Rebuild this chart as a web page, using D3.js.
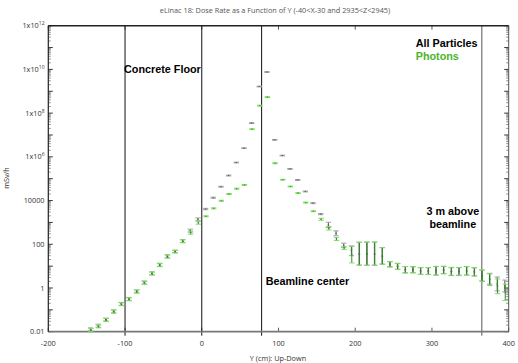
<!DOCTYPE html>
<html>
<head>
<meta charset="utf-8">
<script src="https://cdn.jsdelivr.net/npm/d3@7"></script>
<style>
  html, body { margin: 0; padding: 0; background: #fff; }
  svg { display: block; }
</style>
</head>
<body>
<svg id="chart" width="518" height="363"></svg>
<script>
// Bin centres along Y (cm)
const positions = [-145,-135,-125,-115,-105,-95,-85,-75,-65,-55,-45,-35,-25,-15,-5,
  5,15,25,35,45,55,65,75,85,95,105,115,125,135,145,155,165,175,185,195,
  205,215,225,235,245,255,265,275,285,295,305,315,325,335,345,355,365,375,385,395];

// All particles: dose rate (mSv/h) with lower / upper error limits
const allValue = [0.013,0.019,0.036,0.085,0.19,0.32,0.7,1.8,4.7,11.5,28,47,140,420,1400,
  4100,13500,43000,1.4e5,5.5e5,2.5e6,3.5e7,1.65e9,7.6e9,6.0e6,1.15e6,2.8e5,8.8e4,2.6e4,7600,2400,770,320,90,53,
  37,37,37,29,12.6,9.9,6.9,6.9,6.0,6.0,6.1,6.7,5.6,5.6,6.1,5.5,3.7,2.6,1.5,1.24];
const allLow = [0.011,0.016,0.031,0.073,0.16,0.27,0.6,1.5,4.0,9.8,24,41,120,360,1200,
  3800,12800,41000,1.33e5,5.25e5,2.4e6,3.35e7,1.58e9,7.3e9,5.75e6,1.1e6,2.68e5,8.4e4,2.48e4,7200,2250,580,245,73,30,
  11.3,11,11,12.6,9.5,7.2,5.0,5.0,4.2,4.2,3.9,4.6,3.7,3.7,3.9,3.6,2.1,1.5,0.73,0.66];
const allHigh = [0.015,0.022,0.042,0.1,0.22,0.37,0.82,2.1,5.5,13.5,33,54,163,490,1600,
  4400,14200,45000,1.47e5,5.75e5,2.6e6,3.65e7,1.72e9,7.9e9,6.25e6,1.2e6,2.92e5,9.2e4,2.72e4,8000,2550,1020,410,112,84,
  124,126,126,70,16,13.5,9.5,9.5,8.5,8.5,9.5,9.8,8.5,8.5,9.5,8.5,6.7,4.7,3.2,2.3];

// Photons: dose rate (mSv/h) with lower / upper error limits
const photonValue = [0.012,0.017,0.034,0.082,0.18,0.30,0.68,1.74,4.5,11,27,46,136,340,970,
  1900,4400,9800,20000,35000,52000,1.85e7,2.2e8,5.4e8,5.1e5,9.0e4,4.4e4,2.2e4,8100,3250,1400,540,175,68,35,
  35,36,35,28,12,9.5,6.8,6.7,6.0,5.9,6.2,6.5,5.7,5.8,6.0,5.4,3.6,2.4,1.2,0.6];
const photonLow = [0.010,0.015,0.029,0.07,0.155,0.26,0.58,1.5,3.9,9.4,23,40,117,290,830,
  1800,4150,9300,19000,33000,49500,1.77e7,2.1e8,5.15e8,4.85e5,8.6e4,4.2e4,2.1e4,7700,3100,1250,450,150,58,14,
  11,11,11,12,9,7,4.8,4.9,4.2,4.1,3.9,4.4,3.8,3.9,3.9,3.5,2.0,1.3,0.55,0.27];
const photonHigh = [0.014,0.02,0.04,0.096,0.21,0.35,0.8,2.0,5.3,12.9,32,53,158,400,1130,
  2000,4650,10300,21000,37000,54500,1.93e7,2.3e8,5.65e8,5.35e5,9.4e4,4.6e4,2.3e4,8500,3400,1550,650,205,80,80,
  124,126,126,70,16,13,9.6,9.3,8.6,8.5,9.8,9.8,8.8,8.7,9.5,8.3,6.6,4.4,2.6,1.5];

// Axis ticks
const xTicks = [-200,-100,0,100,200,300,400];
const yTickValues = [1e12,1e10,1e8,1e6,10000,100,1,0.01];
const yTickLabels = [["1x10","12"],["1x10","10"],["1x10","8"],["1x10","6"],["10000",""],["100",""],["1",""],["0.01",""]];

// Region markers (cm)
const markers = [-100, 0, 78, 365];

const svg = d3.select("#chart");
const plotLeft = 48.3, plotRight = 508.7, plotTop = 25.7, plotBottom = 331.7;

const x = d3.scaleLinear().domain([-200, 400]).range([plotLeft, plotRight]);
const y = d3.scaleLog().domain([0.01, 1e12]).range([plotBottom, plotTop]);

// Title
svg.append("text")
  .attr("x", 275).attr("y", 12.5)
  .attr("text-anchor", "middle")
  .style("font-family", "'Open Sans', sans-serif")
  .style("font-size", "7.3px")
  .style("fill", "#555")
  .text("eLinac 18: Dose Rate as a Function of Y (-40<X-30 and 2935<Z<2945)");

// Minor and major log ticks on left and right edges
const minorVals = [];
for (let e = -2; e < 12; e++) {
  for (let m = 2; m <= 9; m++) minorVals.push(m * Math.pow(10, e));
}
const majorVals = d3.range(-2, 13).map(e => Math.pow(10, e));

const tickG = svg.append("g");
[plotLeft, plotRight].forEach((edge, i) => {
  const dir = i === 0 ? 1 : -1;
  tickG.selectAll(null).data(minorVals).enter().append("line")
    .attr("x1", edge).attr("x2", edge + dir * 2.5)
    .attr("y1", d => y(d)).attr("y2", d => y(d))
    .attr("stroke", "#444").attr("stroke-width", 0.6);
  tickG.selectAll(null).data(majorVals).enter().append("line")
    .attr("x1", edge).attr("x2", edge + dir * 4.5)
    .attr("y1", d => y(d)).attr("y2", d => y(d))
    .attr("stroke", "#222").attr("stroke-width", 0.9);
});

// X ticks top and bottom
xTicks.forEach(v => {
  tickG.append("line").attr("x1", x(v)).attr("x2", x(v))
    .attr("y1", plotBottom).attr("y2", plotBottom - 4).attr("stroke", "#333").attr("stroke-width", 0.8);
  tickG.append("line").attr("x1", x(v)).attr("x2", x(v))
    .attr("y1", plotTop).attr("y2", plotTop + 4).attr("stroke", "#333").attr("stroke-width", 0.8);
});

// Vertical region lines
svg.append("g").selectAll("line").data(markers).enter().append("line")
  .attr("x1", d => x(d)).attr("x2", d => x(d))
  .attr("y1", plotTop).attr("y2", plotBottom + 4)
  .attr("stroke", (d, i) => i === 3 ? "#555" : "#111")
  .attr("stroke-width", 1);

// Frame
svg.append("line").attr("x1", plotLeft).attr("x2", plotRight).attr("y1", plotTop).attr("y2", plotTop)
  .attr("stroke", "#222").attr("stroke-width", 1.6);
svg.append("line").attr("x1", plotLeft).attr("x2", plotRight).attr("y1", plotBottom).attr("y2", plotBottom)
  .attr("stroke", "#777").attr("stroke-width", 1.8);
svg.append("line").attr("x1", plotLeft).attr("x2", plotLeft).attr("y1", plotTop).attr("y2", plotBottom)
  .attr("stroke", "#222").attr("stroke-width", 1.2);
svg.append("line").attr("x1", plotRight).attr("x2", plotRight).attr("y1", plotTop).attr("y2", plotBottom)
  .attr("stroke", "#555").attr("stroke-width", 1);

// Y tick labels
const yLab = svg.append("g")
  .style("font-family", "'Open Sans', sans-serif")
  .style("font-size", "7.3px")
  .style("fill", "#333");
yTickValues.forEach((v, i) => {
  const [base, sup] = yTickLabels[i];
  const t = yLab.append("text")
    .attr("x", 44.5).attr("y", y(v) + 2.6)
    .attr("text-anchor", "end");
  t.append("tspan").text(base);
  if (sup) {
    t.append("tspan").attr("dy", -3).style("font-size", "5px").text(sup);
  }
});

// X tick labels
svg.append("g").selectAll("text").data(xTicks).enter().append("text")
  .attr("x", d => x(d)).attr("y", 345.5)
  .attr("text-anchor", "middle")
  .style("font-family", "'Open Sans', sans-serif")
  .style("font-size", "7.3px")
  .style("fill", "#333")
  .text(d => d);

// Axis titles
svg.append("text")
  .attr("x", 278).attr("y", 361)
  .attr("text-anchor", "middle")
  .style("font-family", "'Open Sans', sans-serif")
  .style("font-size", "7.3px")
  .style("fill", "#333")
  .text("Y (cm): Up-Down");
svg.append("text")
  .attr("transform", "translate(9,178) rotate(-90)")
  .attr("text-anchor", "middle")
  .style("font-family", "'Open Sans', sans-serif")
  .style("font-size", "7.3px")
  .style("fill", "#333")
  .text("mSv/h");

// Error-bar series
function drawSeries(vals, lows, highs, stemColor, capColor, dx) {
  const g = svg.append("g");
  positions.forEach((p, i) => {
    const cx = x(p) + dx;
    const y1 = y(lows[i]), y2 = y(highs[i]);
    g.append("line").attr("x1", cx).attr("x2", cx).attr("y1", y1).attr("y2", y2)
      .attr("stroke", stemColor).attr("stroke-width", 1);
    [y1, y2].forEach(yy => {
      g.append("line").attr("x1", cx - 2.7).attr("x2", cx + 2.7).attr("y1", yy).attr("y2", yy)
        .attr("stroke", capColor).attr("stroke-width", 1);
    });
    g.append("line").attr("x1", cx - 0.8).attr("x2", cx + 0.8).attr("y1", y(vals[i])).attr("y2", y(vals[i]))
      .attr("stroke", stemColor).attr("stroke-width", 0.8);
  });
}
drawSeries(allValue, allLow, allHigh, "#505050", "#a2a2a2", 0);
drawSeries(photonValue, photonLow, photonHigh, "#2f8a22", "#78e05c", 0.4);

// Annotations
const ann = svg.append("g")
  .style("font-family", "'Liberation Sans', Arial, sans-serif")
  .style("font-weight", "bold")
  .style("font-size", "10.8px");
ann.append("text").attr("x", 124).attr("y", 73.2).style("fill", "#000").text("Concrete Floor");
ann.append("text").attr("x", 415.7).attr("y", 46.6).style("fill", "#000").text("All Particles");
ann.append("text").attr("x", 415.7).attr("y", 59.8).style("fill", "#4cb52c").text("Photons");
ann.append("text").attr("x", 265.7).attr("y", 285).style("fill", "#000").text("Beamline center");
ann.append("text").attr("x", 452.8).attr("y", 214.6).attr("text-anchor", "middle").style("fill", "#000").text("3 m above");
ann.append("text").attr("x", 452.8).attr("y", 227.8).attr("text-anchor", "middle").style("fill", "#000").text("beamline");
</script>
</body>
</html>
